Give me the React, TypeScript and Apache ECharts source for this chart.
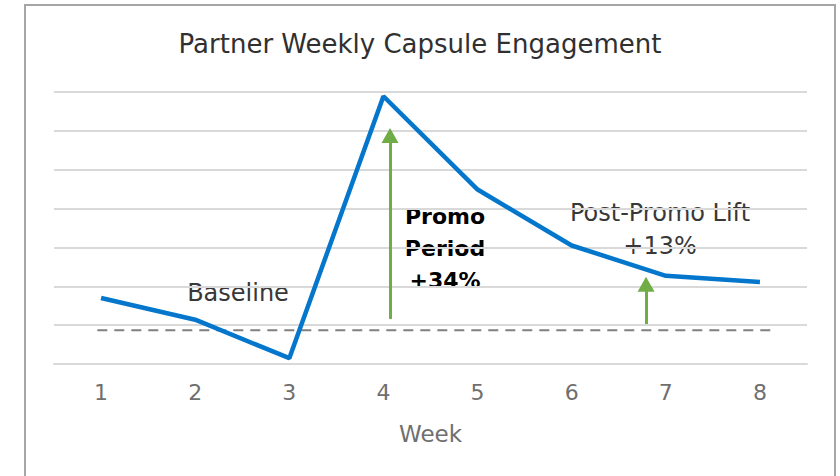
import React, { useEffect, useRef } from "react";
import * as echarts from "echarts";

const chartTitle = "Partner Weekly Capsule Engagement";
const weeks = ["1", "2", "3", "4", "5", "6", "7", "8"];
const engagement = [1.7, 1.14, 0.15, 6.89, 4.49, 3.05, 2.27, 2.11];
const baselineLevel = 0.87;
const baselineSpan = [-0.04, 7.11];
const promoArrow = [3.07, 1.16, 5.88]; // x, from, to (symbol centre)
const postArrow = [5.79, 1.03, 2.05];
const yTicks = [0, 7, 1]; // min, max, interval

const FONT = "DejaVu Sans";

export default function App() {
  const ref = useRef<HTMLDivElement>(null);
  useEffect(() => {
    if (!ref.current) return;
    const chart = echarts.init(ref.current, null, { renderer: "svg" });
    chart.setOption({
      animation: false,
      backgroundColor: "#ffffff",
      title: {
        text: chartTitle,
        left: "center",
        top: 26,
        textStyle: { fontFamily: FONT, fontSize: 26, fontWeight: "normal", color: "#303030" },
      },
      grid: { left: 54, right: 33, top: 92, bottom: 112 },
      xAxis: [
        {
          type: "category",
          data: weeks,
          boundaryGap: true,
          name: "Week",
          nameLocation: "middle",
          nameGap: 58,
          nameTextStyle: { fontFamily: FONT, fontSize: 23, color: "#6f6f6f" },
          axisLine: { show: true, lineStyle: { color: "#d9d9d9", width: 2 } },
          axisTick: { show: false },
          axisLabel: { fontFamily: FONT, fontSize: 22, color: "#6f6f6f", margin: 17 },
        },
        { type: "value", min: -0.5, max: 7.5, show: false },
      ],
      yAxis: {
        type: "value",
        min: yTicks[0],
        max: yTicks[1],
        interval: yTicks[2],
        axisLine: { show: false },
        axisTick: { show: false },
        axisLabel: { show: false },
        splitLine: { lineStyle: { color: "#d9d9d9", width: 2 } },
      },
      series: [
        {
          type: "line",
          xAxisIndex: 1,
          data: [
            [baselineSpan[0], baselineLevel],
            [baselineSpan[1], baselineLevel],
          ],
          symbol: "none",
          silent: true,
          z: 2,
          lineStyle: { color: "#808080", width: 2, type: [10, 7] },
          markLine: {
            silent: true,
            symbol: ["none", "triangle"],
            symbolSize: [17, 15],
            label: { show: false },
            lineStyle: { color: "#70AD47", width: 3, type: "solid" },
            data: [
              [
                { coord: [promoArrow[0], promoArrow[1]] },
                { coord: [promoArrow[0], promoArrow[2]] },
              ],
              [
                { coord: [postArrow[0], postArrow[1]] },
                { coord: [postArrow[0], postArrow[2]] },
              ],
            ],
          },
        },
        {
          type: "line",
          xAxisIndex: 0,
          data: engagement,
          symbol: "none",
          z: 3,
          lineStyle: { color: "#0477CC", width: 4.5 },
        },
      ],
      graphic: [
        {
          type: "rect",
          shape: { x: 25, y: 5, width: 810, height: 500 },
          style: { fill: "none", stroke: "#a6a6a6", lineWidth: 2 },
          silent: true,
          z: 0,
        },
        {
          type: "text",
          x: 238,
          y: 293,
          style: { text: "Baseline", fontFamily: FONT, fontSize: 24, fill: "#383838", align: "center", verticalAlign: "middle" },
        },
        {
          type: "text",
          x: 445,
          y: 248,
          style: {
            text: "Promo\nPeriod\n+34%",
            fontFamily: FONT,
            fontSize: 22,
            fontWeight: "bold",
            lineHeight: 32,
            fill: "#000000",
            align: "center",
            verticalAlign: "middle",
          },
        },
        {
          type: "text",
          x: 660,
          y: 229,
          style: {
            text: "Post-Promo Lift\n+13%",
            fontFamily: FONT,
            fontSize: 24,
            lineHeight: 33,
            fill: "#383838",
            align: "center",
            verticalAlign: "middle",
          },
        },
      ],
    });
    return () => chart.dispose();
  }, []);
  return <div ref={ref} style={{ position: "fixed", left: 0, top: 0, width: 840, height: 476 }} />;
}
